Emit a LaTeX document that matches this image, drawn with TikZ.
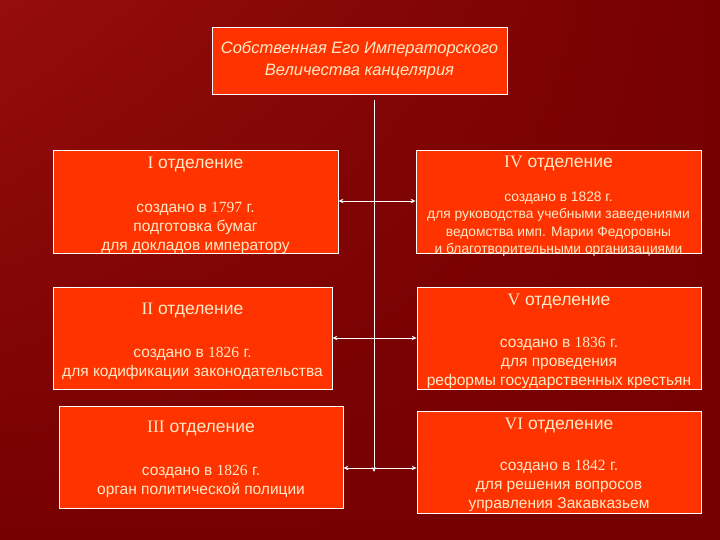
\documentclass[tikz,border=0pt]{standalone}
\usepackage{fontspec}
\setmainfont{Liberation Sans}
\newfontfamily\romfont{Liberation Serif}
\usetikzlibrary{positioning, arrows.meta, shadings}

\definecolor{bgdark}{HTML}{760000}
\definecolor{bglight}{HTML}{960D0D}
\definecolor{boxred}{HTML}{FF3300}
\definecolor{cream}{HTML}{FFE9C8}

\begin{document}
\begin{tikzpicture}[
    x=1pt, y=-1pt,
    dept/.style={
        rectangle,
        draw=white,
        line width=0.8pt,
        fill=boxred,
        minimum width=284pt,
        minimum height=102pt,
        inner sep=0pt
    },
    hdr/.style={
        text=cream,
        inner sep=0pt,
        font=\fontsize{17.5}{20}\selectfont
    },
    body/.style={
        text=cream,
        inner sep=0pt,
        align=center,
        font=\fontsize{15.5}{19}\selectfont
    },
    arrow/.style={
        white,
        line width=0.9pt,
        -{Stealth[length=5pt,width=4.5pt]}
    }
]

% background
\shade[upper left=bglight, upper right=bgdark, lower left=bgdark, lower right=bgdark]
    (0,0) rectangle (720,540);

% chancellery
\node[dept, minimum width=295pt, minimum height=67pt, text=cream, align=center,
      font=\fontsize{16.5}{22}\selectfont\itshape] (top) at (359.5,60.5)
    {Собственная Его Императорского\\Величества канцелярия};

% departments
\node[dept, minimum width=285pt, minimum height=103pt] (sec1) at (195.5,201.5) {};
\node[dept, minimum width=285pt, minimum height=103pt] (sec4) at (558.5,201.5) {};
\node[dept, minimum width=279pt] (sec2) at (192.5,338) {};
\node[dept] (sec5) at (559,338) {};
\node[dept] (sec3) at (201,457) {};
\node[dept] (sec6) at (559,462) {};

\node[hdr, below=7pt of sec1.north] (h1) {{\romfont I} отделение};
\node[hdr, below=6pt of sec4.north] (h4) {{\romfont IV} отделение};
\node[hdr, below=16pt of sec2.north] (h2) {{\romfont II} отделение};
\node[hdr, below=7pt of sec5.north] (h5) {{\romfont V} отделение};
\node[hdr, below=15pt of sec3.north] (h3) {{\romfont III} отделение};
\node[hdr, below=7pt of sec6.north] (h6) {{\romfont VI} отделение};

\node[body, below=52pt of sec1.north] (b1)
    {создано в {\romfont 1797} г.\\подготовка бумаг\\для докладов императору};
\node[body, below=42pt of sec4.north, font=\fontsize{13.8}{17.5}\selectfont] (b4)
    {создано в 1828 г.\\для руководства учебными заведениями\\ведомства имп. Марии Федоровны\\и благотворительными организациями};
\node[body, below=60pt of sec2.north] (b2)
    {создано в {\romfont 1826} г.\\для кодификации законодательства};
\node[body, below=50pt of sec5.north] (b5)
    {создано в {\romfont 1836} г.\\для проведения\\реформы государственных крестьян};
\node[body, below=59pt of sec3.north] (b3)
    {создано в {\romfont 1826} г.\\орган политической полиции};
\node[body, below=49pt of sec6.north] (b6)
    {создано в {\romfont 1842} г.\\для решения вопросов\\управления Закавказьем};

% trunk
\coordinate (trunktop) at (374,100);
\coordinate (trunkend) at (374,472);
\coordinate (j1) at (374,201);
\coordinate (j2) at (374,338);
\coordinate (j3) at (374,468);

\draw[arrow] (trunktop) -- (trunkend);
\draw[arrow] (j1) -- (j1 -| sec1.east);
\draw[arrow] (j1) -- (j1 -| sec4.west);
\draw[arrow] (j2) -- (j2 -| sec2.east);
\draw[arrow] (j2) -- (j2 -| sec5.west);
\draw[arrow] (j3) -- (j3 -| sec3.east);
\draw[arrow] (j3) -- (j3 -| sec6.west);

\end{tikzpicture}
\end{document}
